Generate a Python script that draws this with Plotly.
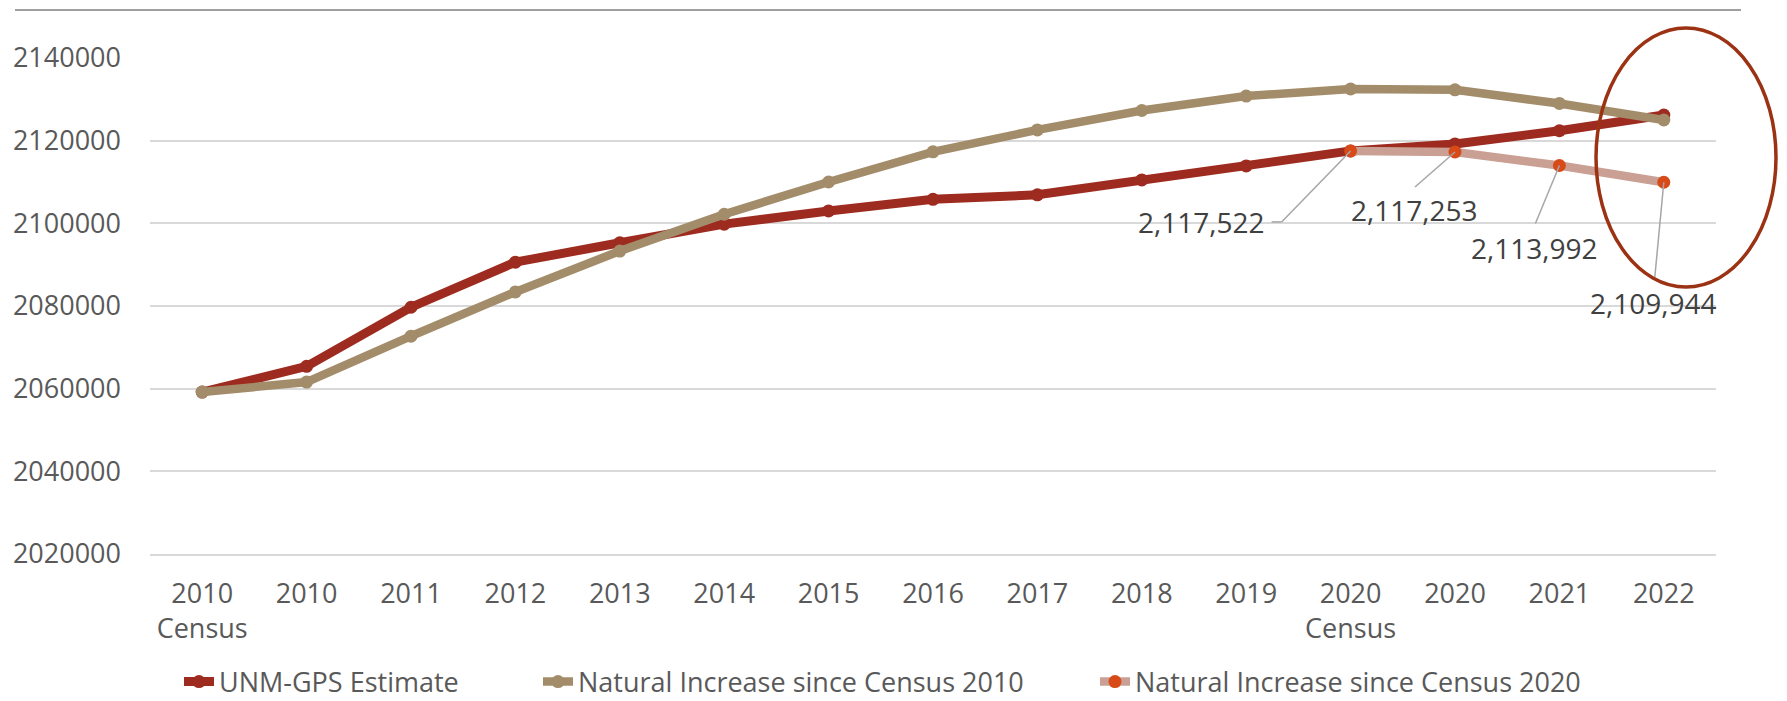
import plotly.graph_objects as go

# ---- data ----
categories = ["2010 Census", "2010", "2011", "2012", "2013", "2014", "2015", "2016",
              "2017", "2018", "2019", "2020 Census", "2020", "2021", "2022"]
tick_labels = ["2010<br>Census", "2010", "2011", "2012", "2013", "2014", "2015", "2016",
               "2017", "2018", "2019", "2020<br>Census", "2020", "2021", "2022"]
unm_gps = [2059179, 2065400, 2079700, 2090600, 2095300, 2099800, 2103000, 2105800,
           2106900, 2110500, 2113900, 2117522, 2119200, 2122400, 2126200]
natural_2010 = [2059179, 2061600, 2072700, 2083400, 2093300, 2102200, 2110000, 2117300,
                2122600, 2127300, 2130800, 2132500, 2132300, 2129000, 2125000]
natural_2020 = [None] * 11 + [2117522, 2117253, 2113992, 2109944]
series_names = ["UNM-GPS Estimate", "Natural Increase since Census 2010",
                "Natural Increase since Census 2020"]

# ---- styles ----
RED = "#9E2B1F"
TAN = "#A38C6A"
PINK = "#C9A093"
ORANGE = "#D84A18"
FONT = "Open Sans"
TICK_COLOR = "#595959"
LABEL_COLOR = "#404040"

W, H = 1787, 701
L, R, T, B = 150, 71, 58, 147
PW, PH = W - L - R, H - T - B


def px(xp):
    return (xp - L) / PW


def py(yp):
    return (H - B - yp) / PH


fig = go.Figure()
fig.add_trace(go.Scatter(x=categories, y=unm_gps, name=series_names[0], mode="lines+markers",
                         line=dict(color=RED, width=9), marker=dict(color=RED, size=13),
                         legend="legend"))
fig.add_trace(go.Scatter(x=categories, y=natural_2010, name=series_names[1], mode="lines+markers",
                         line=dict(color=TAN, width=8.5), marker=dict(color=TAN, size=13),
                         legend="legend2"))
fig.add_trace(go.Scatter(x=categories, y=natural_2020, name=series_names[2], mode="lines+markers",
                         line=dict(color=PINK, width=8.5), marker=dict(color=ORANGE, size=13),
                         connectgaps=False, legend="legend3"))

# data labels with leader lines for the 2020 series
text_shift = [(-149, -71), (-41, -58), (-25, -82), (-10, -121)]
leaders = [[(0, 0, -69, -71), (-69, -71, -79, -71)],
           [(0, 0, -40, -35)],
           [(0, 0, -24, -58)],
           [(0, 0, -9, -95)]]
k = 0
for i, v in enumerate(natural_2020):
    if v is None:
        continue
    fig.add_annotation(x=i, y=v, text=f"{v:,}", showarrow=False,
                       xshift=text_shift[k][0], yshift=text_shift[k][1],
                       font=dict(family=FONT, size=28, color=LABEL_COLOR))
    for (x0, y0, x1, y1) in leaders[k]:
        fig.add_shape(type="line", xref="x", yref="y", xsizemode="pixel", ysizemode="pixel",
                      xanchor=i, yanchor=v, x0=x0, x1=x1, y0=y0, y1=y1,
                      line=dict(color="#A6A6A6", width=1.5), layer="above")
    k += 1

# highlight ellipse
fig.add_shape(type="circle", xref="paper", yref="paper",
              x0=px(1596), x1=px(1776), y0=py(287), y1=py(28),
              line=dict(color="#9C3214", width=3.5), layer="above")
# top border line
fig.add_shape(type="line", xref="paper", yref="paper",
              x0=px(15), x1=px(1741), y0=py(10), y1=py(10),
              line=dict(color="#A0A0A0", width=2))

legend_common = dict(orientation="h", yanchor="middle", y=py(682), xanchor="left",
                     font=dict(family=FONT, size=27, color=TICK_COLOR),
                     bgcolor="rgba(0,0,0,0)", borderwidth=0)

fig.update_layout(
    width=W, height=H,
    margin=dict(l=L, r=R, t=T, b=B, autoexpand=False),
    paper_bgcolor="white", plot_bgcolor="white",
    font=dict(family=FONT, size=27, color=TICK_COLOR),
    showlegend=True,
    legend=dict(x=px(179), **legend_common),
    legend2=dict(x=px(538), **legend_common),
    legend3=dict(x=px(1095), **legend_common),
    xaxis=dict(type="category", categoryorder="array", categoryarray=categories,
               range=[-0.5, len(categories) - 0.5], autorange=False,
               tickmode="array", tickvals=categories, ticktext=tick_labels,
               showgrid=False, showline=True, linecolor="#D9D9D9", linewidth=1.5,
               ticks="", ticklabelstandoff=15,
               tickfont=dict(family=FONT, size=27, color=TICK_COLOR)),
    yaxis=dict(range=[2020000, 2140000], autorange=False, tick0=2020000, dtick=20000,
               tickformat="d",
               showgrid=True, gridcolor="#D9D9D9", gridwidth=1.5, zeroline=False,
               showline=False, ticks="", ticklabelstandoff=28,
               tickfont=dict(family=FONT, size=27, color=TICK_COLOR)),
)

fig.write_html("out.html", config={"displayModeBar": False},
               post_script="document.body.style.margin='0px';"
                           "document.body.style.overflow='hidden';")
